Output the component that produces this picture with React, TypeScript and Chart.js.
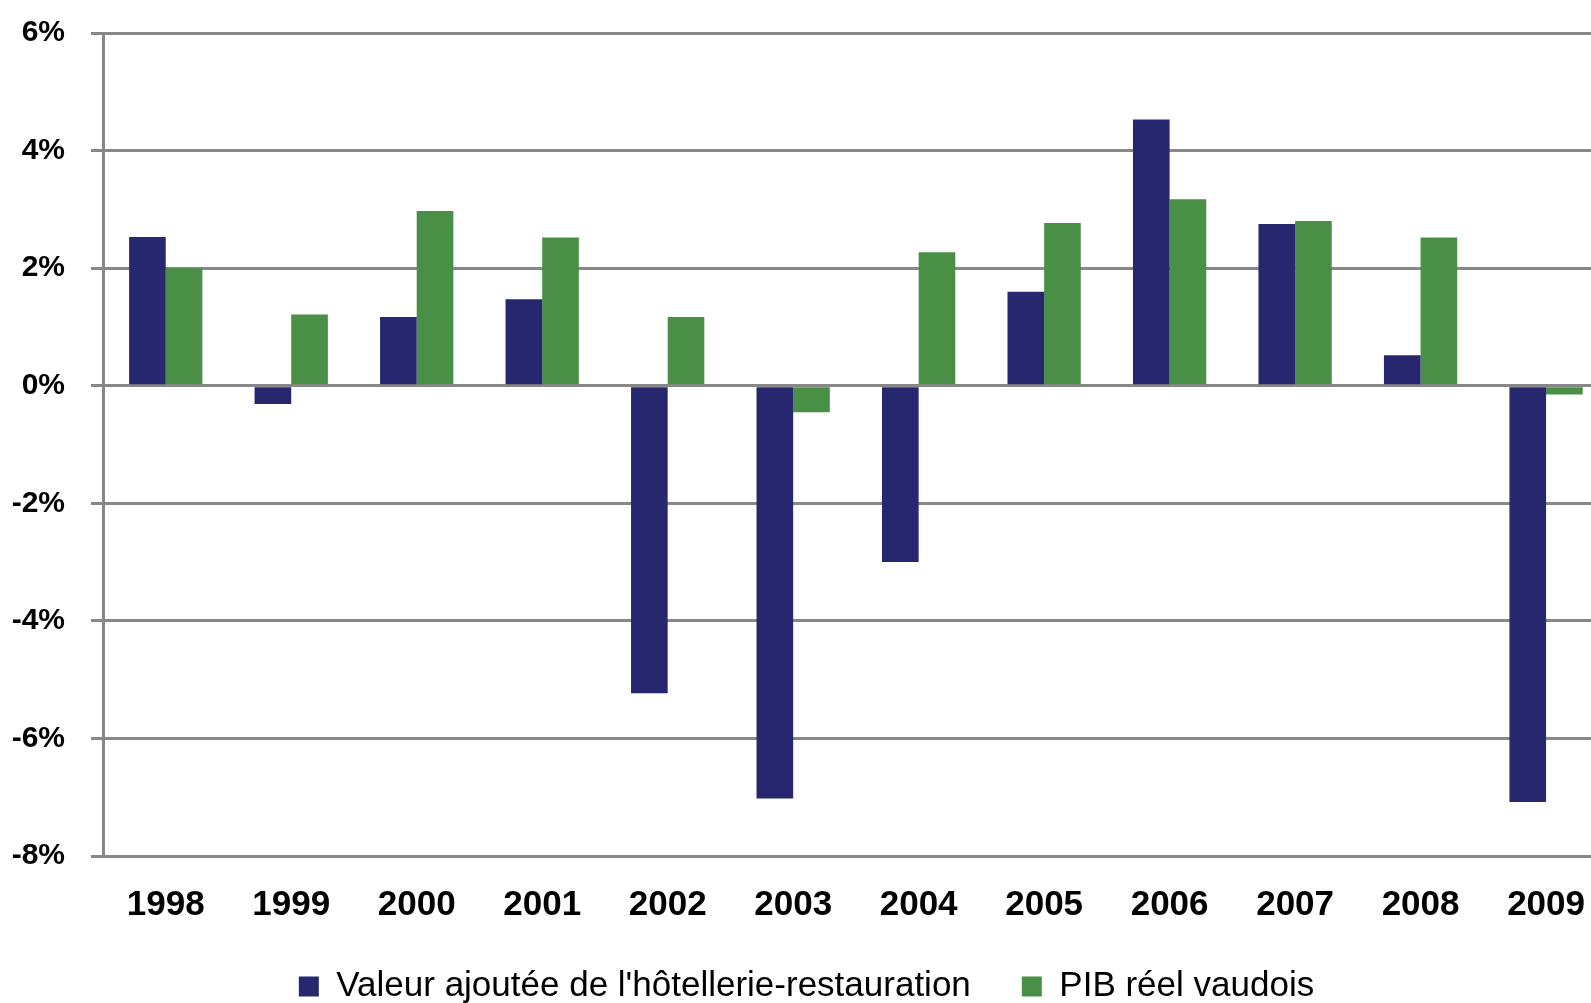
import React, { useEffect, useRef } from "react";
import { Chart, registerables } from "chart.js";

Chart.register(...registerables);

const years = ["1998", "1999", "2000", "2001", "2002", "2003", "2004", "2005", "2006", "2007", "2008", "2009"];
const valeurAjoutee = [2.53, -0.31, 1.17, 1.47, -5.23, -7.02, -3.0, 1.6, 4.53, 2.75, 0.52, -7.08];
const pibReel = [2.0, 1.21, 2.97, 2.52, 1.17, -0.45, 2.27, 2.77, 3.17, 2.8, 2.52, -0.15];
const seriesNames = ["Valeur ajoutée de l'hôtellerie-restauration", "PIB réel vaudois"];
const yMin = -8;
const yMax = 6;
const yStep = 2;

const FONT = '"Liberation Sans", Arial, Helvetica, sans-serif';
const GRID = "#888888";

export default function App() {
  const ref = useRef<HTMLCanvasElement | null>(null);

  useEffect(() => {
    if (!ref.current) return;
    const chart = new Chart(ref.current, {
      type: "bar",
      data: {
        labels: years,
        datasets: [
          {
            label: seriesNames[0],
            data: valeurAjoutee,
            backgroundColor: "#272770",
            borderWidth: 0,
            barPercentage: 1,
            categoryPercentage: 0.584,
          },
          {
            label: seriesNames[1],
            data: pibReel,
            backgroundColor: "#4a8f46",
            borderWidth: 0,
            barPercentage: 1,
            categoryPercentage: 0.584,
          },
        ],
      },
      options: {
        responsive: false,
        animation: false,
        layout: { padding: { top: 33, left: 0, right: 0, bottom: 0 } },
        plugins: {
          tooltip: { enabled: false },
          legend: {
            position: "bottom",
            align: "center",
            labels: {
              boxWidth: 20,
              boxHeight: 20,
              padding: 51,
              color: "#000",
              font: { family: FONT, size: 35, weight: "normal" },
            },
          },
        },
        scales: {
          x: {
            grid: { display: false, drawTicks: false },
            border: { display: false },
            ticks: {
              color: "#000",
              padding: 28,
              font: { family: FONT, size: 35, weight: "bold", lineHeight: 1.2 },
              maxRotation: 0,
              autoSkip: false,
            },
            afterFit: (scale: any) => {
              scale.height = 62;
            },
          },
          y: {
            min: yMin,
            max: yMax,
            grid: {
              color: GRID,
              lineWidth: 3,
              tickLength: 12,
              drawTicks: true,
            },
            border: { display: true, color: GRID, width: 3 },
            ticks: {
              stepSize: yStep,
              color: "#000",
              padding: 26,
              font: { family: FONT, size: 30, weight: "bold" },
              callback: (v: any) => `${v}%`,
            },
            afterFit: (scale: any) => {
              scale.width = 103;
              scale.paddingTop = 0;
              scale.paddingBottom = 0;
            },
          },
        },
      },
    });
    return () => chart.destroy();
  }, []);

  return (
    <div
      style={{
        position: "fixed",
        left: 0,
        top: 0,
        width: 1591,
        height: 1003,
        overflow: "hidden",
        background: "#fff",
      }}
    >
      <canvas ref={ref} width={1613} height={1014} style={{ display: "block" }} />
    </div>
  );
}
